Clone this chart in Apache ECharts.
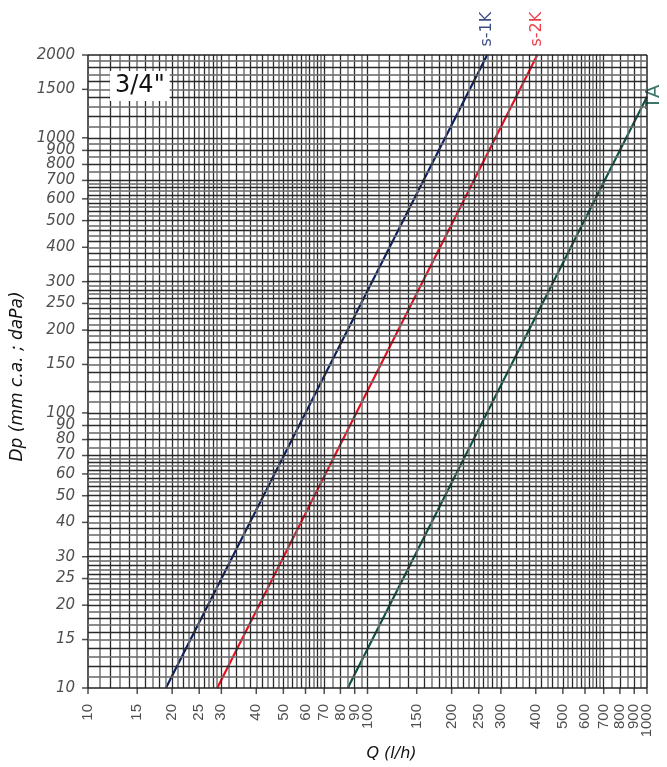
<!DOCTYPE html>
<html>
<head>
<meta charset="utf-8">
<script src="https://cdn.jsdelivr.net/npm/echarts@6/dist/echarts.min.js"></script>
<style>html,body{margin:0;padding:0;background:#fff}#c{width:667px;height:767px}</style>
</head>
<body>
<div id="c"></div>
<script>
// ---- data ----
const xTickLabels = [10,15,20,25,30,40,50,60,70,80,90,100,150,200,250,300,400,500,600,700,800,900,1000];
const yTickLabels = [10,15,20,25,30,40,50,60,70,80,90,100,150,200,250,300,400,500,600,700,800,900,1000,1500,2000];
const s1K_Q = [19, 268];
const s1K_Dp = [10, 2000];
const s2K_Q = [29, 405];
const s2K_Dp = [10, 2000];
const TA_Q = [85, 1000];
const TA_Dp = [10, 1410];
const seriesNames = ['s-1K', 's-2K', 'TA'];
const title = '3/4"';
const xName = 'Q (l/h)';
const yName = 'Dp (mm c.a. ; daPa)';
// grid line spacing (log paper)
const xGridSteps = [[10,30,1],[30,70,2],[70,100,5],[100,300,10],[300,700,20],[700,1000,50]];
const yGridSteps = [[10,30,1],[30,70,2],[70,100,5],[100,300,10],[300,700,20],[700,1000,50],[1000,2000,100]];

function buildGrid(steps, max) {
  const out = [];
  steps.forEach(([a, b, s]) => {
    for (let v = a; v < b - 1e-9; v += s) out.push(Math.round(v * 1000) / 1000);
  });
  out.push(max);
  return out;
}
const xGrid = buildGrid(xGridSteps, 1000);
const yGrid = buildGrid(yGridSteps, 2000);

const DARK = '#2a2a2a', GREY = 'rgba(110,110,110,0.8)';
function gridStyle(i, v, isEdge) {
  if (isEdge) return { color: '#222', width: 1.5, type: 'solid' };
  return i % 2 === 0 ? { color: DARK, width: 1.3, type: 'solid' } : { color: GREY, width: 1.8, type: 'solid' };
}
const gridLines = [];
xGrid.forEach((v, i) => gridLines.push({ xAxis: v, lineStyle: gridStyle(i, v, v === 10 || v === 1000) }));
yGrid.forEach((v, i) => gridLines.push({ yAxis: v, lineStyle: gridStyle(i, v, v === 10 || v === 2000) }));

const chart = echarts.init(document.getElementById('c'), null, { renderer: 'canvas' });
const curveColors = ['#0b1f63', '#e8101e', '#0b5446'];

chart.setOption({
  animation: false,
  backgroundColor: '#fff',
  title: {
    text: title, left: 110, top: 71,
    padding: [3, 5, 3, 5], backgroundColor: '#fff',
    textStyle: { fontSize: 24, fontWeight: 'normal', fontFamily: 'DejaVu Sans', color: '#111' }
  },
  grid: { left: 88, right: 20, top: 55, bottom: 70, containLabel: false },
  xAxis: {
    type: 'log', logBase: 10, min: 10, max: 1000,
    axisLine: { show: false }, axisTick: { show: false }, axisLabel: { show: false },
    splitLine: { show: false },
    name: xName, nameLocation: 'middle', nameGap: 58,
    nameTextStyle: { fontFamily: 'DejaVu Sans', fontStyle: 'italic', fontSize: 16, color: '#111', padding: [0, 0, 0, 48] }
  },
  yAxis: {
    type: 'log', logBase: 10, min: 10, max: 2000,
    axisLine: { show: false }, axisTick: { show: false }, axisLabel: { show: false },
    splitLine: { show: false },
    name: yName, nameLocation: 'middle', nameGap: 62,
    nameTextStyle: { fontFamily: 'DejaVu Sans', fontStyle: 'italic', fontSize: 17, color: '#111', padding: [0, 0, 0, -10] }
  },
  series: [
    {
      type: 'line', z: 1, data: [[10, 10]], symbol: 'none', lineStyle: { width: 0 }, silent: true,
      markLine: { silent: true, symbol: ['none', 'none'], label: { show: false }, animation: false, data: gridLines }
    },
    {
      type: 'scatter', z: 2, clip: false, silent: true,
      data: xTickLabels.map(v => [v, 10]),
      symbol: 'rect', symbolSize: [1.5, 6], symbolOffset: [0, 3],
      itemStyle: { color: '#222' },
      label: {
        show: true, position: 'bottom', distance: 10, rotate: 90, align: 'right', verticalAlign: 'middle',
        formatter: p => String(p.value[0]),
        fontFamily: 'Liberation Sans', fontSize: 15, color: '#222'
      }
    },
    {
      type: 'scatter', z: 2, clip: false, silent: true,
      data: yTickLabels.map(v => [10, v]),
      symbol: 'rect', symbolSize: [6, 1.5], symbolOffset: [-3, 0],
      itemStyle: { color: '#222' },
      label: {
        show: true, position: 'left', distance: 7,
        formatter: p => String(p.value[1]),
        fontFamily: 'DejaVu Sans', fontStyle: 'italic', fontSize: 15, color: '#222'
      }
    },
    {
      name: seriesNames[0], type: 'line', z: 3, symbol: 'none',
      data: s1K_Q.map((q, i) => [q, s1K_Dp[i]]),
      lineStyle: { color: curveColors[0], width: 2.2 }
    },
    {
      name: seriesNames[1], type: 'line', z: 3, symbol: 'none',
      data: s2K_Q.map((q, i) => [q, s2K_Dp[i]]),
      lineStyle: { color: curveColors[1], width: 2.2 }
    },
    {
      name: seriesNames[2], type: 'line', z: 3, symbol: 'none',
      data: TA_Q.map((q, i) => [q, TA_Dp[i]]),
      lineStyle: { color: curveColors[2], width: 2.2 }
    },
    {
      type: 'scatter', z: 4, clip: false, silent: true, symbolSize: 1,
      itemStyle: { color: 'rgba(0,0,0,0)' },
      data: [
        { value: [s1K_Q[1], s1K_Dp[1]], name: seriesNames[0],
          label: { show: true, position: 'top', distance: 8, rotate: 90, align: 'left', verticalAlign: 'middle',
                   color: curveColors[0], fontSize: 16, fontFamily: 'DejaVu Sans', formatter: '{b}' } },
        { value: [s2K_Q[1], s2K_Dp[1]], name: seriesNames[1],
          label: { show: true, position: 'top', distance: 8, rotate: 90, align: 'left', verticalAlign: 'middle',
                   color: curveColors[1], fontSize: 16, fontFamily: 'DejaVu Sans', formatter: '{b}' } },
        { value: [TA_Q[1], TA_Dp[1]], name: seriesNames[2],
          label: { show: true, position: 'right', distance: 14, rotate: 90, align: 'center', verticalAlign: 'middle',
                   offset: [0, -8], color: curveColors[2], fontSize: 20, fontFamily: 'DejaVu Sans', formatter: '{b}' } }
      ]
    }
  ]
});
</script>
</body>
</html>
